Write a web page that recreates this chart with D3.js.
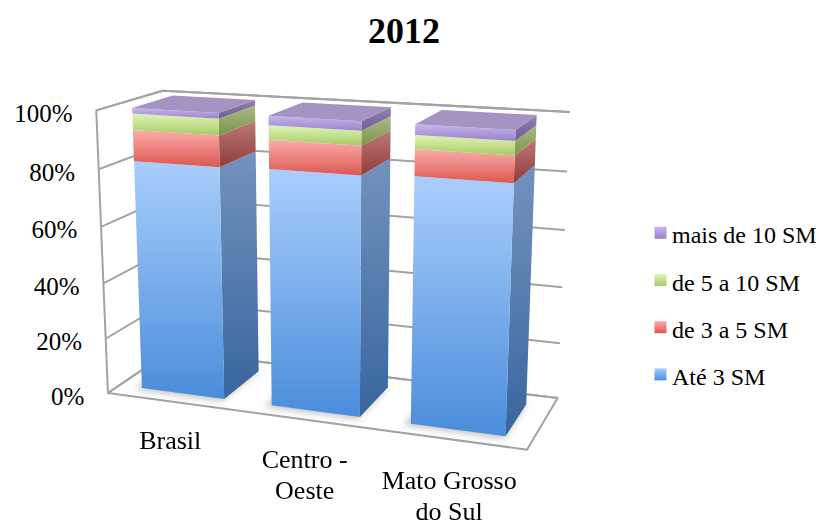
<!DOCTYPE html>
<html>
<head>
<meta charset="utf-8">
<script src="https://cdn.jsdelivr.net/npm/d3@7"></script>
<style>
  body { margin: 0; background: #fff; }
  svg { display: block; }
</style>
</head>
<body>
<svg id="chart" width="819" height="524"></svg>
<script>
// ---- data ----
const categories = ["Brasil", "Centro - Oeste", "Mato Grosso do Sul"];
const seriesNames = ["Até 3 SM", "de 3 a 5 SM", "de 5 a 10 SM", "mais de 10 SM"];
const ate3 = [81.8, 82.4, 83.4];
const de3a5 = [10.7, 9.7, 8.7];
const de5a10 = [5.6, 4.8, 4.5];
const mais10 = [1.9, 3.1, 3.4];
const tickValues = [0, 20, 40, 60, 80, 100];
const chartTitle = "2012";

const SERIF = "'Liberation Serif', 'Times New Roman', Times, serif";

// ---- colours (front gradient, side gradient, top face) ----
const palette = {
  "Até 3 SM":      { front: ["#aacefc", "#4a8ddb"], side: ["#7393bd", "#38659e"], top: "#8fb4e6" },
  "de 3 a 5 SM":   { front: ["#fbaca9", "#dc5752"], side: ["#ba7977", "#913d3a"], top: "#e98f8b" },
  "de 5 a 10 SM":  { front: ["#e0f5b6", "#a8ca66"], side: ["#a8ba86", "#7c9547"], top: "#c6e08f" },
  "mais de 10 SM": { front: ["#c8b5ee", "#9a83c9"], side: ["#9282b0", "#6f5c93"], top: "#a494c2" }
};

// ---- 3D box layout: page positions of plot-box corners (X across, Y up, Z into the page) ----
const boxAnchors = [
  [0, 1, 0, 95, 110.7], [0, 0, 0, 107.3, 394], [0, 1, 1, 162.3, 91],
  [1, 1, 1, 570, 112.3], [1, 0, 0, 526.7, 450], [1, 0, 1, 557.3, 398.3],
  [1, .8, 1, 566.7, 171.7], [1, .6, 1, 565, 230], [1, .4, 1, 562.7, 286.7], [1, .2, 1, 560, 342.7],
  [0, .8, 0, 99.3, 169], [0, .6, 0, 101.7, 226.7], [0, .4, 0, 104, 282.7], [0, .2, 0, 106, 338.3]
];
const zFront = 0.175, zBack = 0.8;

// least-squares perspective camera (DLT) from the anchors
function solveLinear(M, r) {
  const n = r.length;
  const a = M.map((row, i) => [...row, r[i]]);
  for (let c = 0; c < n; c++) {
    let p = c;
    for (let i = c + 1; i < n; i++) if (Math.abs(a[i][c]) > Math.abs(a[p][c])) p = i;
    [a[c], a[p]] = [a[p], a[c]];
    for (let i = 0; i < n; i++) {
      if (i === c) continue;
      const f = a[i][c] / a[c][c];
      for (let j = c; j <= n; j++) a[i][j] -= f * a[c][j];
    }
  }
  return a.map((row, i) => row[n] / row[i]);
}
const NU = 330, NV = 250, NS = 250;
function fitCamera(pts) {
  const A = [], b = [];
  pts.forEach(([X, Y, Z, u0, v0]) => {
    const u = (u0 - NU) / NS, v = (v0 - NV) / NS;
    A.push([X, Y, Z, 1, 0, 0, 0, 0, -u * X, -u * Y, -u * Z]); b.push(u);
    A.push([0, 0, 0, 0, X, Y, Z, 1, -v * X, -v * Y, -v * Z]); b.push(v);
  });
  const n = 11;
  const M = d3.range(n).map(i => d3.range(n).map(j => d3.sum(A, row => row[i] * row[j])));
  const r = d3.range(n).map(i => d3.sum(A, (row, k) => row[i] * b[k]));
  return solveLinear(M, r);
}
const cam = fitCamera(boxAnchors);
function project(X, Y, Z) {
  const w = cam[8] * X + cam[9] * Y + cam[10] * Z + 1;
  const u = (cam[0] * X + cam[1] * Y + cam[2] * Z + cam[3]) / w;
  const v = (cam[4] * X + cam[5] * Y + cam[6] * Z + cam[7]) / w;
  return [u * NS + NU, v * NS + NV];
}
const poly = pts => pts.map(p => project(...p).map(d => d.toFixed(2)).join(",")).join(" ");

// ---- scales ----
const yScale = d3.scaleLinear().domain([0, 100]).range([0, 1]);
const xScale = d3.scaleBand().domain(categories).range([0, 1]).paddingInner(0.358).paddingOuter(0.179);

const rows = categories.map((c, i) => ({
  cat: c,
  "Até 3 SM": ate3[i], "de 3 a 5 SM": de3a5[i], "de 5 a 10 SM": de5a10[i], "mais de 10 SM": mais10[i]
}));
const stacked = d3.stack().keys(seriesNames)(rows);

const svg = d3.select("#chart").attr("font-family", SERIF);
const defs = svg.append("defs");

// gradients
seriesNames.forEach((s, i) => {
  ["front", "side"].forEach(face => {
    const g = defs.append("linearGradient").attr("id", `g-${face}-${i}`)
      .attr("x1", 0).attr("y1", 0).attr("x2", 0).attr("y2", 1);
    g.append("stop").attr("offset", "0%").attr("stop-color", palette[s][face][0]);
    g.append("stop").attr("offset", "100%").attr("stop-color", palette[s][face][1]);
  });
});
defs.append("filter").attr("id", "soft").attr("x", "-30%").attr("y", "-30%").attr("width", "160%").attr("height", "160%")
  .append("feGaussianBlur").attr("stdDeviation", 3.5);

// ---- title ----
svg.append("text").attr("x", 404).attr("y", 42.5).attr("text-anchor", "middle")
  .attr("font-family", SERIF).attr("font-size", 36).attr("font-weight", "bold").text(chartTitle);

// ---- walls, floor and gridlines ----
const frame = svg.append("g").attr("fill", "none").attr("stroke", "#a3a3a3").attr("stroke-width", 2)
  .attr("stroke-linejoin", "round");
frame.append("polygon").attr("points", poly([[0, 0, 0], [1, 0, 0], [1, 0, 1], [0, 0, 1]])).attr("fill", "#fff");
tickValues.forEach(t => {
  const yy = yScale(t);
  frame.append("polyline").attr("points", poly([[0, yy, 0], [0, yy, 1], [1, yy, 1]]));
});
frame.append("polyline").attr("points", poly([[0, 0, 0], [0, 1, 0], [0, 1, 1], [1, 1, 1]]));

// ---- y tick labels ----
svg.append("g").selectAll("text").data(tickValues).join("text")
  .attr("x", d => project(0, yScale(d), 0)[0] - 23.7)
  .attr("y", d => project(0, yScale(d), 0)[1] + 3)
  .attr("text-anchor", "end").attr("dominant-baseline", "central")
  .attr("font-family", SERIF).attr("font-size", 25).text(d => d + "%");

// ---- bar shadows ----
const shadows = svg.append("g").attr("filter", "url(#soft)");
categories.forEach(c => {
  const x0 = xScale(c), x1 = x0 + xScale.bandwidth();
  shadows.append("polygon")
    .attr("points", poly([[x0 - 0.012, 0, zFront - 0.04], [x1, 0, zFront - 0.04], [x1, 0, zBack], [x0 - 0.012, 0, zBack]]))
    .attr("fill", "#000").attr("opacity", 0.25);
});

// ---- bars ----
const bars = svg.append("g");
categories.forEach((c, ci) => {
  const x0 = xScale(c), x1 = x0 + xScale.bandwidth();
  const g = bars.append("g");
  stacked.forEach((layer, si) => {
    const y0 = yScale(layer[ci][0]), y1 = yScale(layer[ci][1]);
    g.append("polygon")
      .attr("points", poly([[x1, y0, zFront], [x1, y0, zBack], [x1, y1, zBack], [x1, y1, zFront]]))
      .attr("fill", `url(#g-side-${si})`);
    g.append("polygon")
      .attr("points", poly([[x0, y0, zFront], [x1, y0, zFront], [x1, y1, zFront], [x0, y1, zFront]]))
      .attr("fill", `url(#g-front-${si})`);
    if (si === stacked.length - 1) {
      g.append("polygon")
        .attr("points", poly([[x0, y1, zFront], [x1, y1, zFront], [x1, y1, zBack], [x0, y1, zBack]]))
        .attr("fill", palette[layer.key].top);
    }
  });
});

// ---- category labels ----
function wrapWords(sel, maxW) {
  sel.each(function (d) {
    const t = d3.select(this);
    const words = d.split(" ");
    const lines = [];
    let cur = [];
    const probe = t.append("tspan");
    words.forEach(w => {
      const test = cur.concat(w).join(" ");
      probe.text(test);
      if (probe.node().getComputedTextLength() > maxW && cur.length) { lines.push(cur.join(" ")); cur = [w]; }
      else cur.push(w);
    });
    lines.push(cur.join(" "));
    probe.remove();
    const x = +t.attr("x");
    lines.forEach((ln, i) => t.append("tspan").attr("x", x).attr("dy", i === 0 ? 0 : 31).text(ln));
  });
}
svg.append("g").selectAll("text").data(categories).join("text")
  .attr("x", d => project(xScale(d) + xScale.bandwidth() / 2, 0, 0)[0] - 1.5)
  .attr("y", d => project(xScale(d) + xScale.bandwidth() / 2, 0, -0.3)[1] + 32.5)
  .attr("text-anchor", "middle").attr("font-family", SERIF).attr("font-size", 26)
  .call(wrapWords, 145);

// ---- legend ----
const legendOrder = seriesNames.slice().reverse();
const legend = svg.append("g").selectAll("g").data(legendOrder).join("g")
  .attr("transform", (d, i) => `translate(654.5, ${243.3 + i * 47.2})`);
legend.append("rect").attr("x", 0).attr("y", -16.5).attr("width", 12).attr("height", 12)
  .attr("fill", d => `url(#g-front-${seriesNames.indexOf(d)})`);
legend.append("text").attr("x", 17.5).attr("y", 0).attr("font-family", SERIF).attr("font-size", 24).text(d => d);
</script>
</body>
</html>
